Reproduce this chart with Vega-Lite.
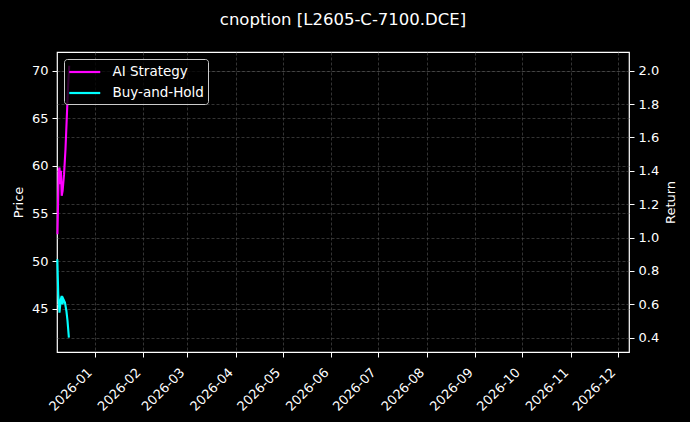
{
  "$schema": "https://vega.github.io/schema/vega-lite/v6.json",
  "width": 572,
  "height": 300,
  "autosize": "none",
  "padding": {"left": 57, "top": 52, "right": 61, "bottom": 70},
  "background": "#000000",
  "title": {
    "text": "cnoption [L2605-C-7100.DCE]",
    "color": "#ffffff",
    "font": "DejaVu Sans",
    "fontSize": 16.5,
    "fontWeight": "normal",
    "anchor": "middle",
    "baseline": "alphabetic",
    "offset": 11
  },
  "config": {
    "view": {"stroke": "#ffffff", "strokeWidth": 1.2},
    "axis": {
      "domain": false,
      "grid": true,
      "labelColor": "#ffffff",
      "labelFont": "DejaVu Sans",
      "labelFontSize": 13,
      "labelPadding": 4,
      "tickColor": "#ffffff",
      "tickSize": 5,
      "tickWidth": 1,
      "titleColor": "#ffffff",
      "titleFont": "DejaVu Sans",
      "titleFontSize": 13,
      "titleFontWeight": "normal",
      "titlePadding": 6,
      "gridColor": "#555555",
      "gridDash": [3, 2],
      "gridWidth": 0.6
    }
  },
  "data": {
    "values": [
      {"date": "2025-12-08T07:00", "series": "AI Strategy", "value": 1.02},
      {"date": "2025-12-09T02:00", "series": "AI Strategy", "value": 1.40},
      {"date": "2025-12-09T14:00", "series": "AI Strategy", "value": 1.42},
      {"date": "2025-12-10T02:00", "series": "AI Strategy", "value": 1.32},
      {"date": "2025-12-10T12:00", "series": "AI Strategy", "value": 1.40},
      {"date": "2025-12-11T00:00", "series": "AI Strategy", "value": 1.25},
      {"date": "2025-12-11T14:00", "series": "AI Strategy", "value": 1.28},
      {"date": "2025-12-12T12:00", "series": "AI Strategy", "value": 1.38},
      {"date": "2025-12-13T10:00", "series": "AI Strategy", "value": 1.53},
      {"date": "2025-12-14T05:00", "series": "AI Strategy", "value": 1.71},
      {"date": "2025-12-15T00:00", "series": "AI Strategy", "value": 1.89},
      {"date": "2025-12-15T19:00", "series": "AI Strategy", "value": 2.03},
      {"date": "2025-12-08T05:00", "series": "Buy-and-Hold", "value": 0.87},
      {"date": "2025-12-08T19:00", "series": "Buy-and-Hold", "value": 0.66},
      {"date": "2025-12-09T14:00", "series": "Buy-and-Hold", "value": 0.55},
      {"date": "2025-12-10T10:00", "series": "Buy-and-Hold", "value": 0.63},
      {"date": "2025-12-11T00:00", "series": "Buy-and-Hold", "value": 0.65},
      {"date": "2025-12-11T12:00", "series": "Buy-and-Hold", "value": 0.60},
      {"date": "2025-12-12T02:00", "series": "Buy-and-Hold", "value": 0.63},
      {"date": "2025-12-13T02:00", "series": "Buy-and-Hold", "value": 0.61},
      {"date": "2025-12-14T00:00", "series": "Buy-and-Hold", "value": 0.56},
      {"date": "2025-12-14T17:00", "series": "Buy-and-Hold", "value": 0.50},
      {"date": "2025-12-15T14:00", "series": "Buy-and-Hold", "value": 0.40}
    ]
  },
  "layer": [
    {
      "mark": {"type": "point", "opacity": 0},
      "encoding": {
        "y": {
          "datum": 45,
          "type": "quantitative",
          "scale": {"domain": [40.45, 71.96], "nice": false, "zero": false},
          "axis": {"orient": "left", "title": "Price", "grid": true, "values": [45, 50, 55, 60, 65, 70]}
        }
      }
    },
    {
      "mark": {"type": "line", "strokeWidth": 2.1},
      "encoding": {
        "x": {
          "field": "date",
          "type": "temporal",
          "scale": {"domain": [{"year": 2025, "month": 12, "date": 8}, {"year": 2026, "month": 12, "date": 8}]},
          "axis": {
            "title": null,
            "format": "%Y-%m",
            "tickCount": {"interval": "month", "step": 1},
            "labelOverlap": false,
            "labelAngle": -45,
            "labelAlign": "right",
            "labelBaseline": "middle",
            "labelPadding": 13,
            "labelOffset": -5
          }
        },
        "y": {
          "field": "value",
          "type": "quantitative",
          "scale": {"domain": [0.314, 2.112], "nice": false, "zero": false},
          "axis": {"orient": "right", "title": "Return", "titleAngle": 270, "titleBaseline": "top", "grid": true, "values": [0.4, 0.6, 0.8, 1.0, 1.2, 1.4, 1.6, 1.8, 2.0], "format": ".1f"}
        },
        "color": {
          "field": "series",
          "type": "nominal",
          "scale": {"domain": ["AI Strategy", "Buy-and-Hold"], "range": ["#ff00ff", "#00ffff"]},
          "legend": {
            "title": null,
            "orient": "top-left",
            "offset": 7,
            "symbolType": "M-2,0H2",
            "symbolSize": 240,
            "symbolOffset": 7.75,
            "symbolStrokeWidth": 2.2,
            "labelColor": "#ffffff",
            "labelFont": "DejaVu Sans",
            "labelFontSize": 13.5,
            "labelOffset": 18.75,
            "fillColor": "rgba(0,0,0,0.8)",
            "strokeColor": "#cccccc",
            "cornerRadius": 3,
            "padding": 4,
            "rowPadding": 5
          }
        }
      }
    }
  ],
  "resolve": {"scale": {"y": "independent"}}
}
